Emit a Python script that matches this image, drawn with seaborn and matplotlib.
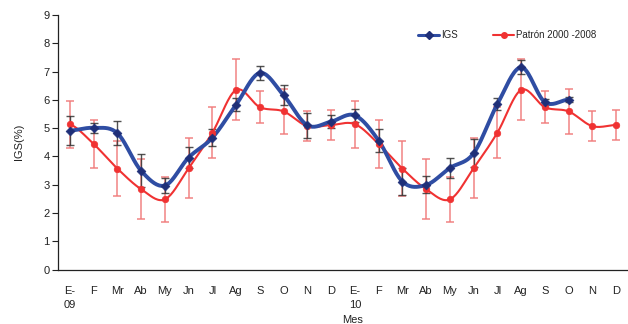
import numpy as np
import pandas as pd
import matplotlib
matplotlib.use("Agg")
import matplotlib.pyplot as plt
import seaborn as sns

# Month labels over two years (2009-2010)
months = ["E-\n09", "F", "Mr", "Ab", "My", "Jn", "Jl", "Ag", "S", "O", "N", "D",
          "E-\n10", "F", "Mr", "Ab", "My", "Jn", "Jl", "Ag", "S", "O", "N", "D"]

# Gonadosomatic index (IGS, %) observed, Jan 2009 - Oct 2010
igs = [4.91, 5.01, 4.82, 3.49, 2.97, 3.96, 4.66, 5.83, 6.95, 6.16, 5.10, 5.23,
       5.45, 4.56, 3.11, 2.99, 3.59, 4.11, 5.85, 7.15, 5.92, 6.01]
igs_err = [0.52, 0.17, 0.42, 0.58, 0.27, 0.38, 0.30, 0.24, 0.25, 0.35, 0.45, 0.24,
           0.22, 0.41, 0.47, 0.30, 0.34, 0.50, 0.20, 0.25, 0.10, 0.10]

# Reference monthly pattern 2000-2008 (repeated for each year)
patron = [5.14, 4.44, 3.57, 2.84, 2.48, 3.58, 4.84, 6.35, 5.74, 5.59, 5.07, 5.11] * 2
patron_err = [0.83, 0.85, 0.97, 1.05, 0.80, 1.06, 0.90, 1.08, 0.57, 0.80, 0.52, 0.52] * 2

BLUE = "#2f4da3"
NAVY = "#1f2f78"
RED = "#f03232"
PINK = "#f07a7a"


def smooth(xs, ys, n=20):
    """Catmull-Rom curve through the points (spreadsheet-style smoothed line)."""
    xs = np.asarray(xs, float)
    ys = np.asarray(ys, float)
    px = np.concatenate([[2 * xs[0] - xs[1]], xs, [2 * xs[-1] - xs[-2]]])
    py = np.concatenate([[ys[0]], ys, [ys[-1]]])
    outx, outy = [], []
    for i in range(1, len(px) - 2):
        t = np.linspace(0, 1, n, endpoint=False)
        for p, out in ((px, outx), (py, outy)):
            p0, p1, p2, p3 = p[i - 1], p[i], p[i + 1], p[i + 2]
            seg = 0.5 * ((2 * p1) + (-p0 + p2) * t
                         + (2 * p0 - 5 * p1 + 4 * p2 - p3) * t ** 2
                         + (-p0 + 3 * p1 - 3 * p2 + p3) * t ** 3)
            out.extend(seg)
    outx.append(xs[-1])
    outy.append(ys[-1])
    return np.array(outx), np.array(outy)


sns.set_theme(style="white")
plt.rcParams["font.family"] = ["Liberation Sans Narrow", "Liberation Sans", "DejaVu Sans"]

fig = plt.figure(figsize=(6.28, 3.24), dpi=100)
ax = fig.add_axes([58 / 628, 54.5 / 324, 1 - 58 / 628, 254.5 / 324])

x_igs = np.arange(len(igs))
x_pat = np.arange(len(patron))

# error bars
ax.errorbar(x_pat, patron, yerr=patron_err, fmt="none", ecolor=PINK, elinewidth=1.2,
            capsize=3, capthick=1.2, alpha=0.85, zorder=2)
ax.errorbar(x_igs, igs, yerr=igs_err, fmt="none", ecolor="#333333", elinewidth=1.0,
            capsize=3, capthick=1.0, alpha=0.85, zorder=3)

# smoothed lines
sx, sy = smooth(x_pat, patron)
sns.lineplot(x=sx, y=sy, ax=ax, color=RED, linewidth=1.5, sort=False, zorder=4)
bx, by = smooth(x_igs, igs)
sns.lineplot(x=bx, y=by, ax=ax, color=BLUE, linewidth=2.8, sort=False, zorder=5)

# markers
df_p = pd.DataFrame({"x": x_pat, "y": patron})
df_i = pd.DataFrame({"x": x_igs, "y": igs})
sns.scatterplot(data=df_p, x="x", y="y", ax=ax, color=RED, marker="o", s=22,
                edgecolor=RED, linewidth=0.5, zorder=6)
sns.scatterplot(data=df_i, x="x", y="y", ax=ax, color=NAVY, marker="D", s=20,
                edgecolor=NAVY, linewidth=0.5, zorder=7)

# legend proxies
h1, = ax.plot([], [], color=BLUE, linewidth=2.2, marker="D", markersize=4,
              markerfacecolor=NAVY, markeredgecolor=NAVY)
h2, = ax.plot([], [], color=RED, linewidth=1.5, marker="o", markersize=4,
              markerfacecolor=RED, markeredgecolor=RED)
ax.legend([h1, h2], ["IGS", "Patrón 2000 -2008"], ncol=2, frameon=False,
          loc="center left", bbox_to_anchor=((418 - 58) / 570, (324 - 35 - 54.5) / 254.5),
          fontsize=7, handlelength=2.2, handletextpad=0.2, columnspacing=3.6,
          borderpad=0, borderaxespad=0)

ax.set_ylim(0, 9)
ax.set_yticks(range(10))
ax.set_xlim(-0.5, 23.09)
ax.set_xticks(np.arange(len(months)))
ax.set_xticklabels(months, fontsize=8, color="#222222", linespacing=1.45,
                   verticalalignment="top")
ax.set_xticks(np.arange(-0.5, len(months), 1), minor=True)
ax.tick_params(axis="x", which="major", length=0, pad=12)
ax.tick_params(axis="x", which="minor", length=4, width=0.8, color="#222222", direction="out")
ax.tick_params(axis="y", length=4, width=0.8, color="#222222", direction="out",
               labelsize=8, labelcolor="#222222", pad=2, left=True)

sns.despine(ax=ax, top=True, right=True)
ax.spines["left"].set_color("#222222")
ax.spines["bottom"].set_color("#222222")
ax.spines["left"].set_linewidth(0.9)
ax.spines["bottom"].set_linewidth(0.9)

ax.set_ylabel("IGS(%)", fontsize=8, color="#222222", labelpad=14)
ax.set_xlabel("Mes", fontsize=8, color="#222222")
ax.xaxis.set_label_coords((353 - 58) / 570, -0.18)

fig.savefig("out.png", dpi=100)
